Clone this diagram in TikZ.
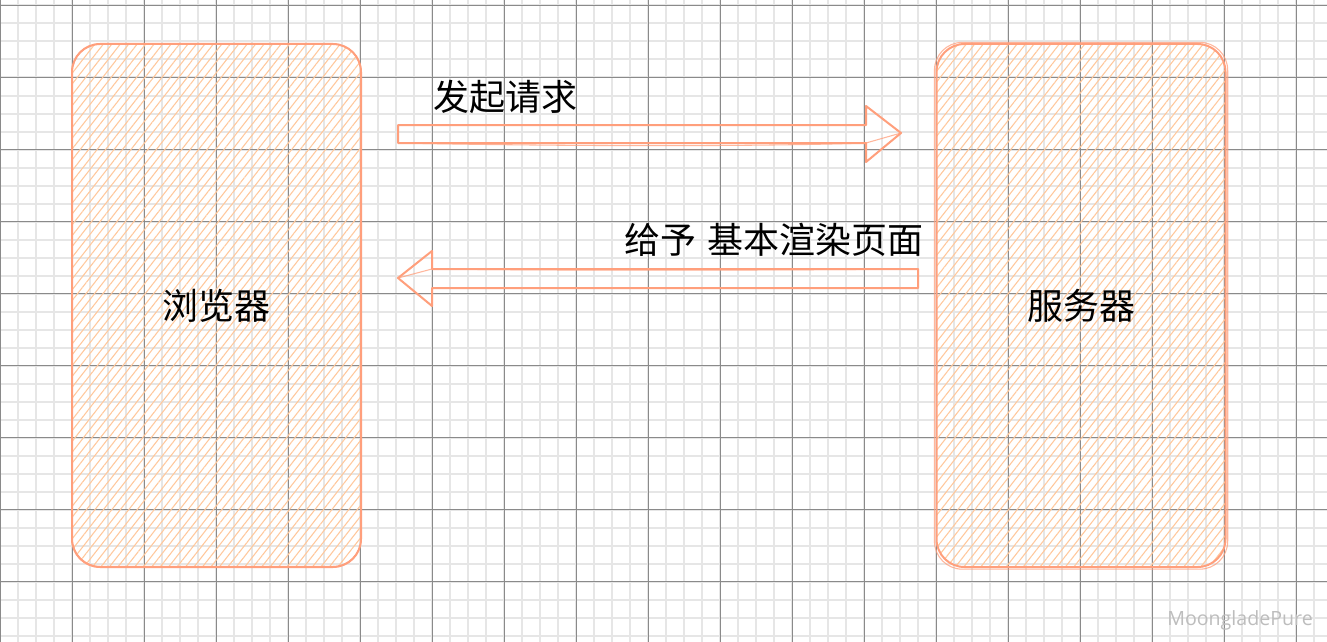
\documentclass[tikz,border=0pt]{standalone}
\usepackage{fontspec}
\setmainfont{Open Sans}
\newfontfamily\cjk{Noto Sans CJK SC}
\usetikzlibrary{patterns.meta}

\definecolor{edgecol}{HTML}{FF9F7C}
\definecolor{hatchcol}{HTML}{FFC89C}
\definecolor{minorcol}{HTML}{E6E6E6}
\definecolor{majorcol}{HTML}{8A8A8A}
\definecolor{markcol}{HTML}{BDBDBD}

\tikzset{
  minorgrid/.style={minorcol, line width=1.5pt},
  majorgrid/.style={majorcol, line width=0.7pt},
  sketchbox/.style={draw=edgecol, line width=1.5pt, rounded corners=21pt,
    pattern={Lines[angle=52,distance=5pt,line width=0.8pt]}, pattern color=hatchcol,
    minimum width=216.75pt, minimum height=392.25pt, inner sep=0pt,
    font=\cjk\fontsize{27}{31}\selectfont},
  sketchline/.style={draw=edgecol, line width=0.8pt, opacity=0.75, rounded corners=21pt},
  blockarrow/.style={draw=edgecol, line width=1.5pt, line join=round},
  arrowtext/.style={anchor=west, inner sep=0pt, font=\cjk\fontsize{27}{31}\selectfont},
}

\begin{document}
\begin{tikzpicture}[x=0.75pt, y=-0.75pt]
    \useasboundingbox (0,0) rectangle (1327,642);
    \fill[white] (0,0) rectangle (1327,642);

    % grid
    \foreach \gx in {0,18,...,1332}
      \draw[minorgrid] (\gx,0) -- (\gx,642);
    \foreach \gy in {5.5,23.5,...,642}
      \draw[minorgrid] (0,\gy) -- (1327,\gy);
    \foreach \gx in {0,72,...,1327}
      \draw[majorgrid] (\gx,0) -- (\gx,642);
    \foreach \gy in {5.5,77.5,...,642}
      \draw[majorgrid] (0,\gy) -- (1327,\gy);

    % boxes
    \node[sketchbox] (browser) at (216.5,305.5) {浏览器};
    \node[sketchbox] (server) at (1081,305.5) {服务器};
    \draw[sketchline] ([xshift=0.6pt,yshift=0.8pt]browser.south west) rectangle ([xshift=-0.4pt,yshift=-0.6pt]browser.north east);
    \draw[sketchline] ([xshift=-0.8pt,yshift=-0.9pt]server.south west) rectangle ([xshift=0.9pt,yshift=0.5pt]server.north east);

    % request arrow
    \coordinate (A) at (398,125);
    \coordinate (B) at (866,125);
    \coordinate (C) at (866,106);
    \coordinate (D) at (901,133);
    \coordinate (E) at (866,162);
    \coordinate (F) at (866,143);
    \coordinate (G) at (398,143);
    \draw[blockarrow] (A) -- (B) -- (C) -- (D) -- (E) -- (F) -- (G) -- cycle;
    \draw[blockarrow, line width=0.8pt, opacity=0.75]
      (G) .. controls (600,147) and (780,146) .. (F) -- (D);
    \node[arrowtext] (req) at (433,97) {发起请求};

    % response arrow
    \coordinate (P) at (398,278);
    \coordinate (Q) at (432,251);
    \coordinate (R) at (432,269);
    \coordinate (S) at (918,269);
    \coordinate (T) at (918,288);
    \coordinate (U) at (432,288);
    \coordinate (V) at (432,306);
    \draw[blockarrow] (P) -- (Q) -- (R) -- (S) -- (T) -- (U) -- (V) -- cycle;
    \draw[blockarrow, line width=0.8pt, opacity=0.75]
      (P) -- (R) .. controls (600,271) and (800,270) .. (S);
    \node[arrowtext] (resp) at (624,240) {给予 \kern0.1em基本渲染页面};

    \node[anchor=base east, inner sep=0pt, text=markcol,
      font=\fontsize{14.7}{17}\selectfont] (mark) at (1313,625) {MoongladePure};
\end{tikzpicture}
\end{document}
